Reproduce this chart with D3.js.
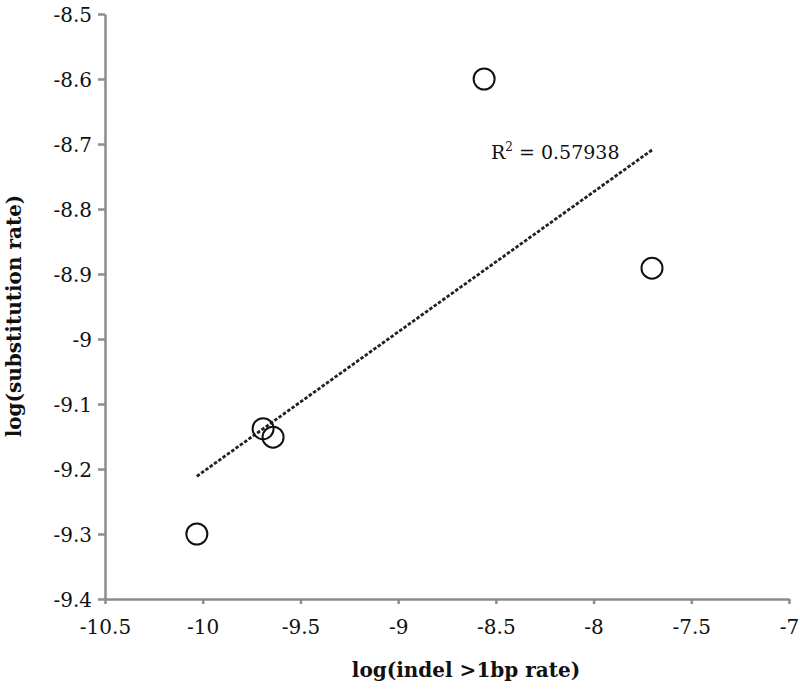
<!DOCTYPE html>
<html><head><meta charset="utf-8">
<script src="https://cdn.jsdelivr.net/npm/d3@7"></script>
<style>body{margin:0;background:#fff}svg{display:block}</style>
</head><body>
<svg id="c" width="800" height="689"></svg>
<script>
const xVals = [-10.03, -9.691, -9.64, -8.56, -7.701];
const yVals = [-9.3, -9.138, -9.151, -8.6, -8.891];
const xTicks = [-10.5, -10, -9.5, -9, -8.5, -8, -7.5, -7];
const yTicks = [-8.5, -8.6, -8.7, -8.8, -8.9, -9, -9.1, -9.2, -9.3, -9.4];
const xTitle = "log(indel >1bp rate)";
const yTitle = "log(substitution rate)";
const r2Label = "0.57938";

const svg = d3.select("#c");
const font = "'DejaVu Serif', 'Liberation Serif', serif";
const x = d3.scaleLinear().domain([-10.5, -7]).range([105, 789]);
const y = d3.scaleLinear().domain([-9.4, -8.5]).range([599, 14]);

const fmt = d => String(d);
const xa = svg.append("g").attr("transform", "translate(0,599)")
  .call(d3.axisBottom(x).tickValues(xTicks).tickFormat(fmt).tickSize(5).tickSizeOuter(0));
const ya = svg.append("g").attr("transform", "translate(105,0)")
  .call(d3.axisLeft(y).tickValues(yTicks).tickFormat(fmt).tickSize(7).tickSizeOuter(0));
[xa, ya].forEach(a => {
  a.select(".domain").attr("stroke", "#8c8c8c").attr("stroke-width", 2.5);
  a.selectAll(".tick line").attr("stroke", "#8c8c8c").attr("stroke-width", 2.5);
  a.selectAll(".tick text").attr("font-family", font).attr("font-size", 20).attr("fill", "#111");
});
xa.selectAll(".tick text").attr("dy", "1.35em");
ya.selectAll(".tick text").attr("x", -13).attr("dy", "0.36em");

// least-squares trend line
const n = xVals.length;
const mx = d3.mean(xVals), my = d3.mean(yVals);
let sxy = 0, sxx = 0;
for (let i = 0; i < n; i++) { sxy += (xVals[i]-mx)*(yVals[i]-my); sxx += (xVals[i]-mx)**2; }
const slope = sxy / sxx, icpt = my - slope * mx;
const x0 = d3.min(xVals), x1 = d3.max(xVals);
svg.append("line")
  .attr("x1", x(x0)).attr("y1", y(slope*x0+icpt))
  .attr("x2", x(x1)).attr("y2", y(slope*x1+icpt))
  .attr("stroke", "#222").attr("stroke-width", 2.8)
  .attr("stroke-dasharray", "3.5,1.8");

svg.append("g").selectAll("circle").data(xVals).join("circle")
  .attr("cx", (d) => x(d)).attr("cy", (d, i) => y(yVals[i]))
  .attr("r", 10.5).attr("fill", "none").attr("stroke", "#111").attr("stroke-width", 2);

const t = svg.append("text").attr("x", 491).attr("y", 159)
  .attr("font-family", font).attr("font-size", 19).attr("fill", "#111");
t.append("tspan").text("R");
t.append("tspan").text("2").attr("font-size", 12).attr("dy", -8);
t.append("tspan").text(" = " + r2Label).attr("dy", 8);

svg.append("text").attr("x", 466).attr("y", 677).attr("text-anchor", "middle")
  .attr("font-family", font).attr("font-size", 20).attr("font-weight", "bold").attr("fill", "#111")
  .text(xTitle);
svg.append("text").attr("transform", "translate(21,316) rotate(-90)").attr("text-anchor", "middle")
  .attr("font-family", font).attr("font-size", 20).attr("font-weight", "bold").attr("fill", "#111")
  .text(yTitle);
</script>
</body></html>
